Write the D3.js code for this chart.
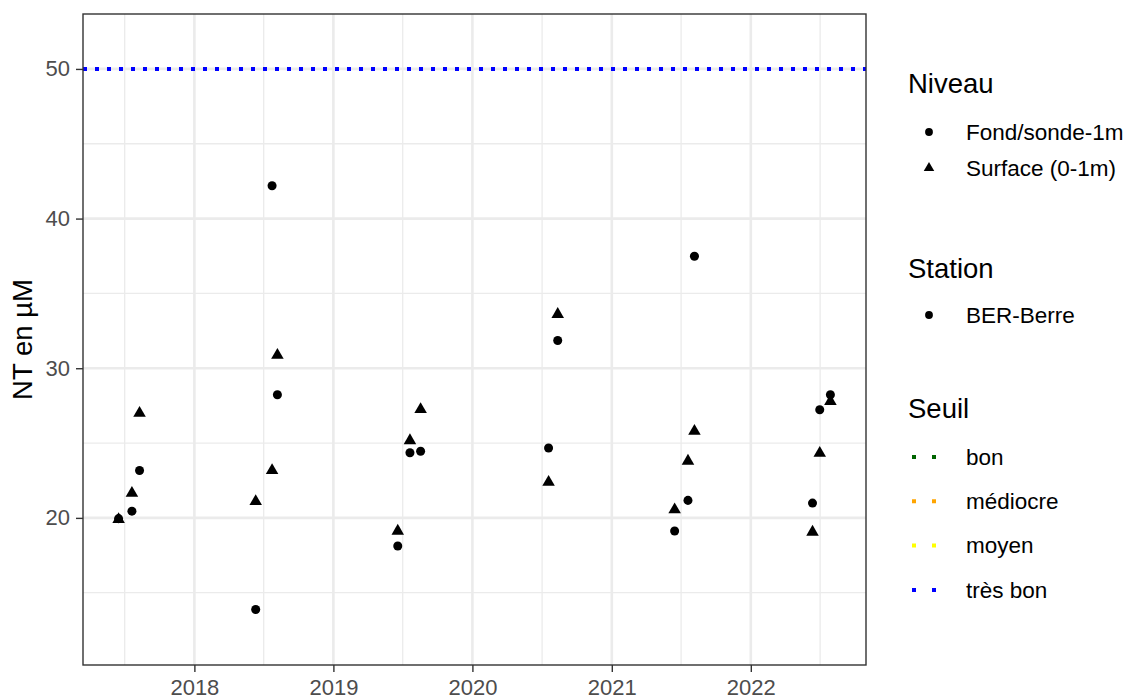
<!DOCTYPE html>
<html>
<head>
<meta charset="utf-8">
<script src="https://cdn.jsdelivr.net/npm/d3@7"></script>
<style>
  body { margin: 0; background: #fff; }
  text { font-family: "Liberation Sans", Arial, sans-serif; }
</style>
</head>
<body>
<svg id="chart" width="1130" height="700"></svg>
<script>
// Sampling dates at station BER-Berre
const sampleDates = [
  "2017-06-16", "2017-07-21", "2017-08-10",
  "2018-06-11", "2018-07-24", "2018-08-07",
  "2019-06-19", "2019-07-21", "2019-08-18",
  "2020-07-19", "2020-08-12",
  "2021-06-15", "2021-07-20", "2021-08-06",
  "2022-06-12", "2022-07-01", "2022-07-29"
];
// Total nitrogen (µM), bottom sample
const fondValues = [
  19.95, 20.45, 23.17,
  13.88, 42.19, 28.23,
  18.12, 24.35, 24.45,
  24.67, 31.85,
  19.12, 21.17, 37.48,
  20.99, 27.23, 28.23
];
// Total nitrogen (µM), surface sample
const surfaceValues = [
  19.90, 21.65, 27.00,
  21.10, 23.17, 30.87,
  19.12, 25.17, 27.25,
  22.39, 33.60,
  20.55, 23.80, 25.79,
  19.05, 24.32, 27.79
];
const niveauLabels = ["Fond/sonde-1m", "Surface (0-1m)"];
const stationLabels = ["BER-Berre"];
const seuilLabels = ["bon", "médiocre", "moyen", "très bon"];
const seuilColors = ["#006400", "#FFA500", "#FFFF00", "#0000FF"];
// Threshold drawn on the panel ("très bon")
const seuilValues = [50];
const yTicks = [20, 30, 40, 50];
const xTickYears = [2018, 2019, 2020, 2021, 2022];
const yLimits = [10.17, 53.67];

const svg = d3.select("#chart");
const panel = { left: 83, right: 866, top: 14, bottom: 665 };

const parse = d3.utcParse("%Y-%m-%d");
const dates = sampleDates.map(parse);

// x domain: data range expanded by 5% on each side
const [dMin, dMax] = d3.extent(dates);
const span = dMax - dMin;
const x = d3.scaleUtc()
  .domain([new Date(+dMin - 0.05 * span), new Date(+dMax + 0.05 * span)])
  .range([panel.left, panel.right]);
const y = d3.scaleLinear().domain(yLimits).range([panel.bottom, panel.top]);

const g = svg.append("g");

// Panel background
g.append("rect")
  .attr("x", panel.left).attr("y", panel.top)
  .attr("width", panel.right - panel.left).attr("height", panel.bottom - panel.top)
  .attr("fill", "#fff");

// Minor grid
const xMinor = [2017, ...xTickYears].map(yr => new Date(Date.UTC(yr, 6, 2)));
const yMinor = [15, 25, 35, 45];
g.selectAll(".xminor").data(xMinor.filter(d => x(d) > panel.left && x(d) < panel.right))
  .join("line")
  .attr("x1", d => x(d)).attr("x2", d => x(d))
  .attr("y1", panel.top).attr("y2", panel.bottom)
  .attr("stroke", "#EBEBEB").attr("stroke-width", 1.3);
g.selectAll(".yminor").data(yMinor)
  .join("line")
  .attr("y1", d => y(d)).attr("y2", d => y(d))
  .attr("x1", panel.left).attr("x2", panel.right)
  .attr("stroke", "#EBEBEB").attr("stroke-width", 1.3);

// Major grid
const xMajor = xTickYears.map(yr => new Date(Date.UTC(yr, 0, 1)));
g.selectAll(".xmajor").data(xMajor)
  .join("line")
  .attr("x1", d => x(d)).attr("x2", d => x(d))
  .attr("y1", panel.top).attr("y2", panel.bottom)
  .attr("stroke", "#EBEBEB").attr("stroke-width", 2.6);
g.selectAll(".ymajor").data(yTicks)
  .join("line")
  .attr("y1", d => y(d)).attr("y2", d => y(d))
  .attr("x1", panel.left).attr("x2", panel.right)
  .attr("stroke", "#EBEBEB").attr("stroke-width", 2.6);

// Threshold line
g.selectAll(".seuil").data(seuilValues)
  .join("line")
  .attr("x1", panel.left).attr("x2", panel.right)
  .attr("y1", d => y(d)).attr("y2", d => y(d))
  .attr("stroke", seuilColors[3]).attr("stroke-width", 4)
  .attr("stroke-dasharray", "4,8");

// Points: bottom samples as circles, surface samples as triangles
const circle = d3.symbol().type(d3.symbolCircle).size(64);
const tri = d3.symbol().type(d3.symbolTriangle).size(68);
const pts = dates.map((d, i) => ({ date: d, fond: fondValues[i], surface: surfaceValues[i] }));
g.selectAll(".fond").data(pts)
  .join("path")
  .attr("d", circle)
  .attr("transform", d => `translate(${x(d.date)},${y(d.fond)})`)
  .attr("fill", "#000");
g.selectAll(".surface").data(pts)
  .join("path")
  .attr("d", tri)
  .attr("transform", d => `translate(${x(d.date)},${y(d.surface)})`)
  .attr("fill", "#000");

// Panel border
g.append("rect")
  .attr("x", panel.left).attr("y", panel.top)
  .attr("width", panel.right - panel.left).attr("height", panel.bottom - panel.top)
  .attr("fill", "none").attr("stroke", "#333333").attr("stroke-width", 1.4);

// Axes
const xAxis = d3.axisBottom(x).tickValues(xMajor).tickFormat(d3.utcFormat("%Y"))
  .tickSize(7).tickPadding(7);
const yAxis = d3.axisLeft(y).tickValues(yTicks).tickSize(7).tickPadding(6);

const gx = svg.append("g").attr("transform", `translate(0,${panel.bottom})`).call(xAxis);
const gy = svg.append("g").attr("transform", `translate(${panel.left},0)`).call(yAxis);
[gx, gy].forEach(a => {
  a.select(".domain").remove();
  a.selectAll(".tick line").attr("stroke", "#333333").attr("stroke-width", 1.4);
  a.selectAll(".tick text").attr("fill", "#4D4D4D").style("font-size", "22px");
});

// Axis title
svg.append("text")
  .attr("transform", `translate(32,${(panel.top + panel.bottom) / 2}) rotate(-90)`)
  .attr("text-anchor", "middle")
  .style("font-size", "27.5px")
  .attr("fill", "#000")
  .text("NT en µM");

// Legends
const lg = svg.append("g");
const titleX = 908, keyX = 929, labelX = 966;
function legendTitle(txt, baseline) {
  lg.append("text").attr("x", titleX).attr("y", baseline)
    .style("font-size", "27.5px").attr("fill", "#000").text(txt);
}
function legendLabel(txt, cy) {
  lg.append("text").attr("x", labelX).attr("y", cy).attr("dy", "0.35em")
    .style("font-size", "22.5px").attr("fill", "#000").text(txt);
}

legendTitle("Niveau", 93);
const niveauY = [132, 168];
const keyCircle = d3.symbol().type(d3.symbolCircle).size(48);
const keyTri = d3.symbol().type(d3.symbolTriangle).size(48);
niveauLabels.forEach((lab, i) => {
  lg.append("path").attr("d", i === 0 ? keyCircle : keyTri)
    .attr("transform", `translate(${keyX},${niveauY[i]})`).attr("fill", "#000");
  legendLabel(lab, niveauY[i]);
});

legendTitle("Station", 278);
stationLabels.forEach((lab, i) => {
  const cy = 315 + i * 36;
  lg.append("path").attr("d", keyCircle)
    .attr("transform", `translate(${keyX},${cy})`).attr("fill", "#000");
  legendLabel(lab, cy);
});

legendTitle("Seuil", 418);
seuilLabels.forEach((lab, i) => {
  const cy = 457 + i * 44.3;
  lg.append("line")
    .attr("x1", 912).attr("x2", 950)
    .attr("y1", cy).attr("y2", cy)
    .attr("stroke", seuilColors[i]).attr("stroke-width", 4)
    .attr("stroke-dasharray", "4,16");
  legendLabel(lab, cy);
});
</script>
</body>
</html>
